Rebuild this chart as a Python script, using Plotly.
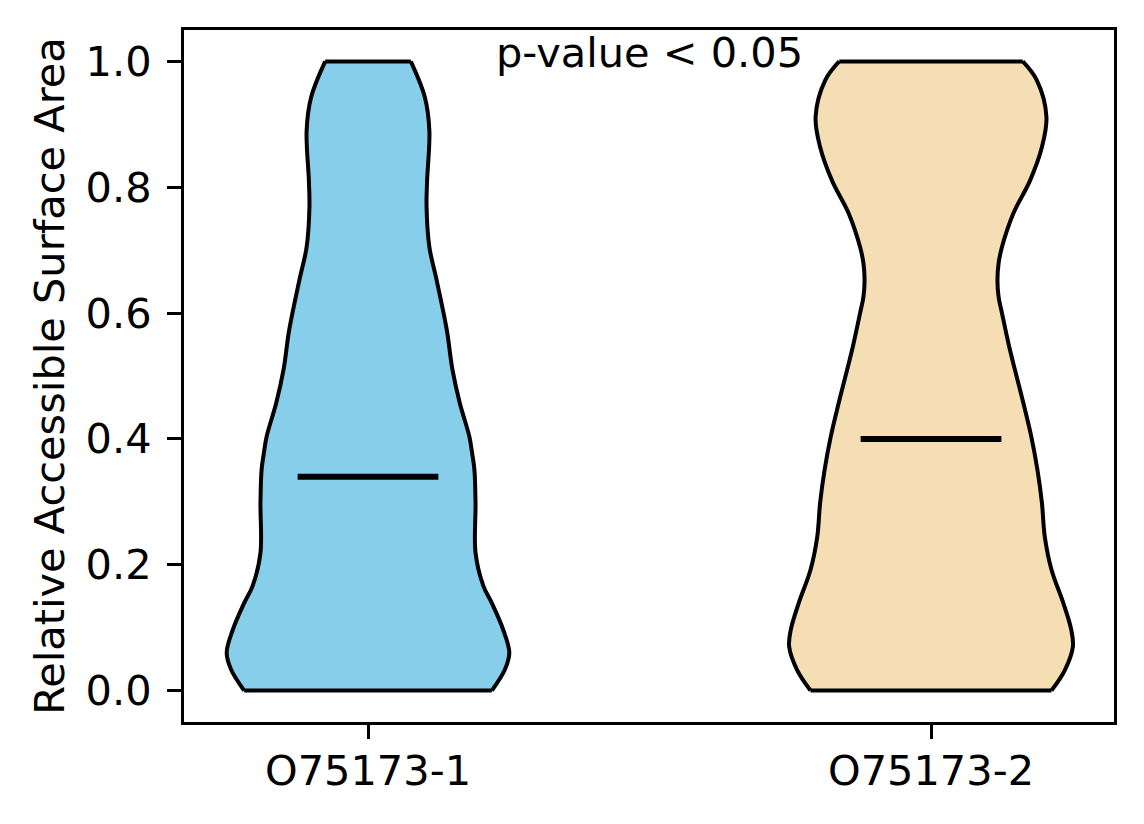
import plotly.graph_objects as go

# ---- data ----
categories = ["O75173-1", "O75173-2"]
positions = [1, 2]
medians = [0.34, 0.40]

# violin outline: RSA levels and half-widths (scaled density) for each group
levels_1 = [0.0, 0.033, 0.060, 0.097, 0.139, 0.166, 0.219, 0.298, 0.351, 0.377,
            0.404, 0.457, 0.510, 0.573, 0.652, 0.705, 0.769, 0.811, 0.890, 0.943,
            1.0]
widths_1 = [0.220, 0.243, 0.251, 0.240, 0.220, 0.205, 0.191, 0.191, 0.189, 0.185,
            0.180, 0.163, 0.150, 0.140, 0.122, 0.109, 0.104, 0.105, 0.109, 0.101,
            0.076]

levels_2 = [0.0, 0.033, 0.070, 0.097, 0.139, 0.192, 0.245, 0.298, 0.351, 0.404,
            0.457, 0.510, 0.546, 0.600, 0.626, 0.652, 0.679, 0.705, 0.758, 0.811,
            0.864, 0.912, 0.970, 1.0]
widths_2 = [0.214, 0.238, 0.252, 0.249, 0.235, 0.214, 0.202, 0.197, 0.189, 0.178,
            0.164, 0.149, 0.139, 0.126, 0.120, 0.118, 0.120, 0.126, 0.146, 0.176,
            0.197, 0.205, 0.188, 0.163]

colors = ["#87CEEB", "#F5DEB3"]
annotation_text = "p-value < 0.05"
y_label = "Relative Accessible Surface Area"

FONT = "DejaVu Sans"
FS = 41.5
EDGE_W = 4
SMOOTH = 1.0

fig = go.Figure()

for pos, lv, wd, col in zip(positions, [levels_1, levels_2], [widths_1, widths_2], colors):
    left_x = [pos - w for w in wd]
    right_x = [pos + w for w in wd]
    # left edge (outline)
    fig.add_trace(go.Scatter(
        x=left_x, y=lv, mode="lines",
        line=dict(color="black", width=EDGE_W, shape="spline", smoothing=SMOOTH),
        hoverinfo="skip", showlegend=False))
    # right edge, filled back to the left edge
    fig.add_trace(go.Scatter(
        x=right_x, y=lv, mode="lines", fill="tonextx", fillcolor=col,
        line=dict(color="black", width=EDGE_W, shape="spline", smoothing=SMOOTH),
        hoverinfo="skip", showlegend=False))
    # flat bottom and top caps
    for i in (0, -1):
        fig.add_trace(go.Scatter(
            x=[left_x[i], right_x[i]], y=[lv[i], lv[i]], mode="lines",
            line=dict(color="black", width=EDGE_W),
            hoverinfo="skip", showlegend=False))

for pos, med in zip(positions, medians):
    half = 0.125
    fig.add_trace(go.Scatter(
        x=[pos - half, pos + half], y=[med, med], mode="lines",
        line=dict(color="black", width=6), showlegend=False, hoverinfo="skip"))

fig.add_annotation(x=1.5, y=1.014, xref="x", yref="y", text=annotation_text,
                   showarrow=False, xanchor="center", yanchor="middle",
                   font=dict(family=FONT, size=FS, color="black"))

axis_common = dict(showline=True, linecolor="black", linewidth=3.3, mirror=True,
                   ticks="outside", ticklen=14, tickwidth=3.3, tickcolor="black",
                   showgrid=False, zeroline=False,
                   tickfont=dict(family=FONT, size=FS, color="black"))

fig.update_layout(
    width=1144, height=824,
    margin=dict(l=184, r=30, t=30, b=102),
    plot_bgcolor="white", paper_bgcolor="white",
    xaxis=dict(range=[0.6732, 2.325], tickvals=positions, ticktext=categories,
               ticklabelstandoff=-4, **axis_common),
    yaxis=dict(range=[-0.05, 1.05], tickvals=[0, 0.2, 0.4, 0.6, 0.8, 1.0],
               tickformat=".1f", ticklabelstandoff=7,
               title=dict(text=y_label, font=dict(family=FONT, size=FS, color="black"),
                          standoff=9),
               **axis_common),
    font=dict(family=FONT, size=FS, color="black"),
)

fig.write_html("out.html", config={"displayModeBar": False},
               post_script="document.body.style.margin='0';")
